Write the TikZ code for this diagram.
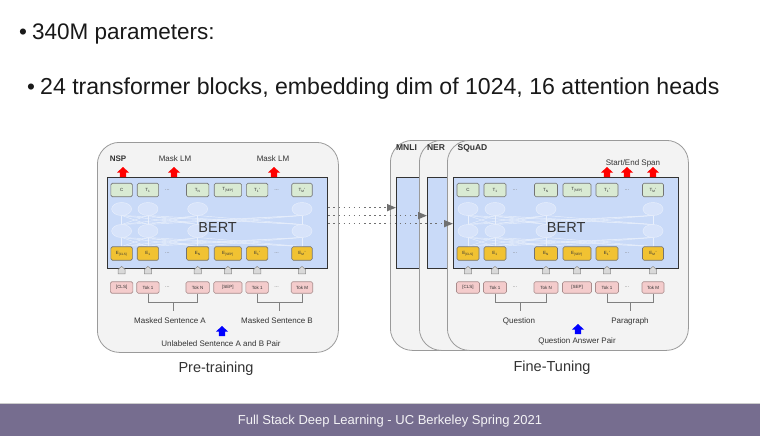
\documentclass[tikz,border=0pt]{standalone}
\usepackage{fontspec}
\setmainfont{Liberation Sans}
\usetikzlibrary{arrows.meta,calc}

\definecolor{panelfill}{HTML}{F3F3F3}
\definecolor{panelline}{HTML}{9A9A9A}
\definecolor{bertblue}{HTML}{C9DAF8}
\definecolor{tgreen}{HTML}{D9EAD3}
\definecolor{egold}{HTML}{F1C232}
\definecolor{tokpink}{HTML}{F4CCCC}
\definecolor{footerbar}{RGB}{118,109,143}
\definecolor{ink}{HTML}{333333}
\definecolor{dotgray}{HTML}{707070}

\tikzset{
  panel/.style={draw=panelline, fill=panelfill, line width=0.8pt,
    rounded corners=22pt, inner sep=0pt, anchor=north west,
    minimum width=241pt, minimum height=210pt},
  bertbox/.style={draw=black!80, fill=bertblue, line width=1.3pt,
    inner sep=0pt, anchor=north west, minimum height=91pt},
  cell/.style={rounded corners=1.5pt, line width=0.6pt, minimum height=13.5pt,
    inner sep=0pt, text=ink, font=\fontsize{4.5}{5}\selectfont},
  tcell/.style={cell, draw=black!55, fill=tgreen},
  ecell/.style={cell, draw=black!55, fill=egold},
  kcell/.style={cell, draw=red!25!black!45, fill=tokpink, minimum height=11.5pt},
  pent/.style={draw=black!45, fill=black!15, line width=0.5pt},
  unit/.style={draw=white!55!bertblue, fill=white!25!bertblue, line width=0.5pt},
  mesh/.style={draw=white!60!bertblue, line width=0.45pt},
  gap/.style={text=black!55, font=\fontsize{5.5}{6}\selectfont, inner sep=0pt},
  bracket/.style={draw=black!50, line width=0.6pt},
  small/.style={text=ink, font=\fontsize{8}{9}\selectfont, inner sep=0pt},
  tasklabel/.style={text=ink, font=\fontsize{8.5}{9}\selectfont\bfseries, inner sep=0pt},
  caption/.style={text=ink, font=\fontsize{14.5}{16}\selectfont, inner sep=0pt},
  bullet/.style={text=black!90, font=\fontsize{22.5}{26}\selectfont, inner sep=0pt, anchor=base west},
  dotarrow/.style={draw=dotgray, line width=1.5pt, dash pattern=on 1.5pt off 3.6pt,
    -{Triangle[length=9pt,width=7pt,fill=dotgray]}},
  blockarrow/.pic={\fill[pic actions] (-3.2,0) -- (-3.2,-4.5) -- (-6,-4.5) -- (0,-10)
     -- (6,-4.5) -- (3.2,-4.5) -- (3.2,0) -- cycle;}
}

% One BERT stack: #1 name, #2 left edge, #3 right edge, #4 horizontal scale of the columns
\newcommand{\bertstack}[4]{%
  \node[bertbox, minimum width={(#3-#2)*1pt}] (#1) at (#2,177) {};
  % faint transformer units and their connections
  \foreach \k/\off in {a/15,b/42,n/93,m/200}{
    \pgfmathsetmacro\cx{#2+#4*\off}
    \coordinate (#1-u\k) at (\cx,209);
    \coordinate (#1-l\k) at (\cx,231);
  }
  \foreach \i in {a,b,n,m}{
    \foreach \j in {a,b,n,m}{
      \draw[mesh] ($(#1-u\i)+(0,6.5)$) -- ($(#1-l\j)+(0,-6.5)$);
      \draw[mesh] ($(#1-l\i)+(0,6.5)$) -- ($(#1-l\j)+(0,15.5)$);
    }
  }
  \foreach \k in {a,b,n,m}{
    \draw[unit] (#1-u\k) ellipse [x radius=10pt, y radius=6.5pt];
    \draw[unit] (#1-l\k) ellipse [x radius=10pt, y radius=6.5pt];
  }
  \node[caption, font=\fontsize{14.5}{16}\selectfont] (#1-name) at ($(#1.center)+(0,4.5)$) {BERT};
  % output, embedding and token rows
  \foreach \k/\off/\w/\tl/\el/\kl in {
      a/15/22/{C}/{E\textsubscript{[CLS]}}/{[CLS]},
      b/42/22/{T\textsubscript{1}}/{E\textsubscript{1}}/{Tok 1},
      n/93/23/{T\textsubscript{N}}/{E\textsubscript{N}}/{Tok N},
      s/124/28/{T\textsubscript{[SEP]}}/{E\textsubscript{[SEP]}}/{[SEP]},
      p/154/22/{T\textsubscript{1}'}/{E\textsubscript{1}'}/{Tok 1},
      m/200/21/{T\textsubscript{M}'}/{E\textsubscript{M}'}/{Tok M}}{
    \pgfmathsetmacro\cx{#2+#4*\off}
    \node[tcell, minimum width={#4*\w*1pt}] (#1-t\k) at (\cx,190) {\tl};
    \node[ecell, minimum width={#4*\w*1pt}] (#1-e\k) at (\cx,253.5) {\el};
    \node[kcell, minimum width={#4*(\w+1)*1pt}] (#1-k\k) at (\cx,287.5) {\kl};
    \draw[pent] (\cx-3.6,273.8) -- (\cx-3.6,269.6) -- (\cx,266.4) -- (\cx+3.6,269.6)
      -- (\cx+3.6,273.8) -- cycle;
  }
  \foreach \off/\k in {62/x,174/y}{
    \pgfmathsetmacro\cx{#2+#4*\off}
    \node[gap] (#1-gt\k) at (\cx,190) {...};
    \node[gap] (#1-ge\k) at (\cx,253.5) {...};
    \node[gap] (#1-gk\k) at (\cx,287.5) {...};
  }
  % brackets grouping the two segments
  \draw[bracket] (#1-kb.south) -- ++(0,9) -| (#1-kn.south);
  \draw[bracket] (#1-kp.south) -- ++(0,9) -| (#1-km.south);
  \coordinate (#1-segA) at ($(#1-kb.south)!0.5!(#1-kn.south)+(0,9)$);
  \coordinate (#1-segB) at ($(#1-kp.south)!0.5!(#1-km.south)+(0,9)$);
  \draw[bracket] (#1-segA) -- ++(0,8);
  \draw[bracket] (#1-segB) -- ++(0,8);
}

\begin{document}
\begin{tikzpicture}[x=1pt,y=-1pt]
\useasboundingbox (0,0) rectangle (760,436);
\fill[white] (0,0) rectangle (760,436);

% slide text
\node[bullet] (b1) at (19,40) {•};
\node[bullet] (t1) at (32,40) {340M parameters:};
\node[bullet] (b2) at (27,94) {•};
\node[bullet, font=\fontsize{23.1}{26}\selectfont] (t2) at (40,94) {24 transformer blocks, embedding dim of 1024, 16 attention heads};

% ---------------- pre-training ----------------
\node[panel] (ptpanel) at (97,142) {};
\bertstack{ptb}{107}{327}{0.975}
\coordinate (nspbase) at (123,177);
\coordinate (mlmbaseA) at (174,177);
\coordinate (mlmbaseB) at (274,177);
\pic[fill=red] at (nspbase) {blockarrow};
\pic[fill=red] at (mlmbaseA) {blockarrow};
\pic[fill=red] at (mlmbaseB) {blockarrow};
\node[small, font=\fontsize{8}{9}\selectfont\bfseries] (nsp) at (118,159) {NSP};
\node[small] (mlmA) at (175,159) {Mask LM};
\node[small] (mlmB) at (273,159) {Mask LM};
\node[small] (sentA) at (170,321) {Masked Sentence A};
\node[small] (sentB) at (277,321) {Masked Sentence B};
\coordinate (ptin) at (222,336);
\pic[fill=blue] at (ptin) {blockarrow};
\node[small] (ptpair) at (221,343.5) {Unlabeled Sentence A and B Pair};
\node[caption] (ptcap) at (216,369) {Pre-training};

% ---------------- fine-tuning ----------------
\node[panel] (mnli) at (390,140) {};
\node[bertbox, minimum width=220pt] (mnlibox) at (396,177) {};
\node[tasklabel] (mnlilab) at (406.5,148) {MNLI};
\node[panel] (ner) at (419,140) {};
\node[bertbox, minimum width=220pt] (nerbox) at (427,177) {};
\node[tasklabel] (nerlab) at (436,148) {NER};
\node[panel] (squad) at (447,140) {};
\bertstack{sqb}{453}{678}{1.0}
\node[tasklabel] (squadlab) at (472.5,148) {SQuAD};
\node[small] (span) at (633,163) {Start/End Span};
\coordinate (spanA) at (sqb-tp |- sqb.north);
\coordinate (spanB) at (sqb-gty |- sqb.north);
\coordinate (spanC) at (sqb-tm |- sqb.north);
\pic[fill=red] at (spanA) {blockarrow};
\pic[fill=red] at (spanB) {blockarrow};
\pic[fill=red] at (spanC) {blockarrow};
\node[small] (question) at (519,321) {Question};
\node[small] (paragraph) at (630,321) {Paragraph};
\coordinate (sqin) at (578,334);
\pic[fill=blue] at (sqin) {blockarrow};
\node[small] (qapair) at (577,341) {Question Answer Pair};
\node[caption] (ftcap) at (552,368) {Fine-Tuning};

% transfer of the pre-trained weights
\coordinate (d1) at ([yshift=15.5pt]ptb.east);
\coordinate (d2) at ([yshift=7.5pt]ptb.east);
\coordinate (d3) at ([yshift=-0.5pt]ptb.east);
\draw[dotarrow] (d1) -- (d1 -| mnlibox.west);
\draw[dotarrow] (d2) -- (d2 -| nerbox.west);
\draw[dotarrow] (d3) -- (d3 -| sqb.west);

% footer
\fill[footerbar] (0,404) rectangle (760,436);
\draw[black!20, line width=0.8pt] (0,403.6) -- (760,403.6);
\node[text=white!92!footerbar, font=\fontsize{13}{14}\selectfont, inner sep=0pt] (foot) at (390,421)
  {Full Stack Deep Learning - UC Berkeley Spring 2021};
\end{tikzpicture}
\end{document}
